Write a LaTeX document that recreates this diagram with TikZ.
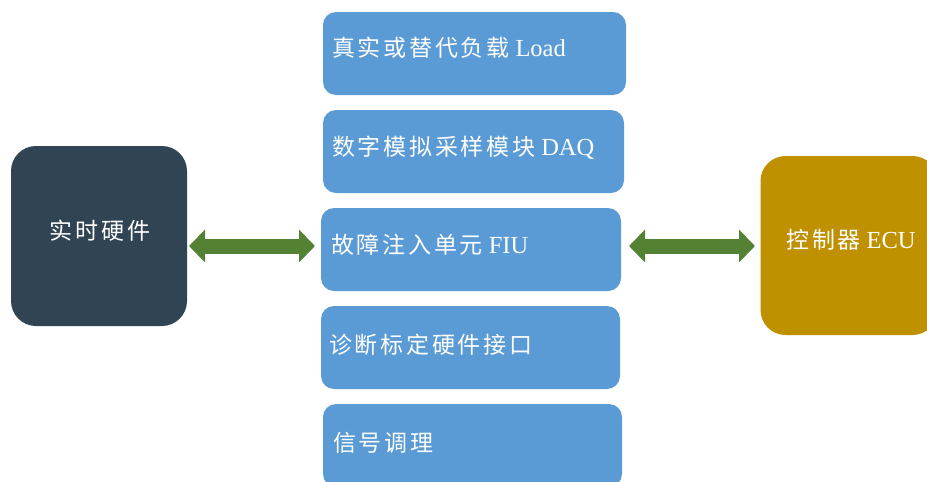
\documentclass[tikz,border=0pt]{standalone}
\usepackage{fontspec}
\setmainfont{Liberation Serif}
\newfontfamily\cjk[LetterSpace=12]{Noto Sans CJK SC}
\usetikzlibrary{arrows.meta}
\definecolor{hwcol}{HTML}{304453}
\definecolor{ecucol}{HTML}{BF9000}
\definecolor{boxblue}{HTML}{5B9BD5}
\definecolor{arrgreen}{HTML}{548235}
\newcommand\lat[1]{{\fontsize{24.5}{26}\selectfont #1}}
\tikzset{
  bigbox/.style={draw=none, rounded corners=25pt, inner sep=0pt},
  bluebox/.style={draw=none, fill=boxblue, rounded corners=13pt, inner sep=0pt, minimum height=83pt},
  lbl/.style={text=white, inner sep=0pt, font=\fontsize{23}{26}\selectfont},
  dblarrow/.style={draw=arrgreen, line width=15pt, {Triangle[length=16pt,width=32pt]}-{Triangle[length=16pt,width=32pt]}}
}
\begin{document}
\begin{tikzpicture}[x=1pt,y=-1pt]
\useasboundingbox (0,0) rectangle (927,482);
\clip (0,0) rectangle (927,482);
% side boxes
\node[bigbox, fill=hwcol, minimum width=176pt, minimum height=180pt] (hw) at (99,236) {};
\node[bigbox, fill=ecucol, minimum width=177pt, minimum height=179pt] (ecu) at (849,245.5) {};
\node[lbl] (hwt) at (100,231) {\cjk 实时硬件};
\node[lbl] (ecut) at (851,240) {{\cjk 控制器} \lat{ECU}};
% middle boxes
\node[bluebox, minimum width=303pt] (b1) at (474.5,53.5) {};
\node[bluebox, minimum width=301pt] (b2) at (473.5,151.5) {};
\node[bluebox, minimum width=300pt] (b3) at (471,249.5) {};
\node[bluebox, minimum width=299pt] (b4) at (470.5,347.5) {};
\node[bluebox, minimum width=299pt] (b5) at (472.5,445.5) {};
\node[lbl, anchor=west] (t1) at (332,48) {{\cjk 真实或替代负载} \lat{Load}};
\node[lbl, anchor=west] (t2) at (332,148) {{\cjk 数字模拟采样模块} \lat{DAQ}};
\node[lbl, anchor=west] (t3) at (331,245) {{\cjk 故障注入单元} \lat{FIU}};
\node[lbl, anchor=west] (t4) at (329,345) {\cjk 诊断标定硬件接口};
\node[lbl, anchor=west] (t5) at (333,443) {\cjk 信号调理};
% arrows
\coordinate (a1s) at (189,246);
\coordinate (a1e) at (315,246);
\coordinate (a2s) at (629,246);
\coordinate (a2e) at (755,246);
\draw[dblarrow] (a1s) -- (a1e);
\draw[dblarrow] (a2s) -- (a2e);
\end{tikzpicture}
\end{document}
